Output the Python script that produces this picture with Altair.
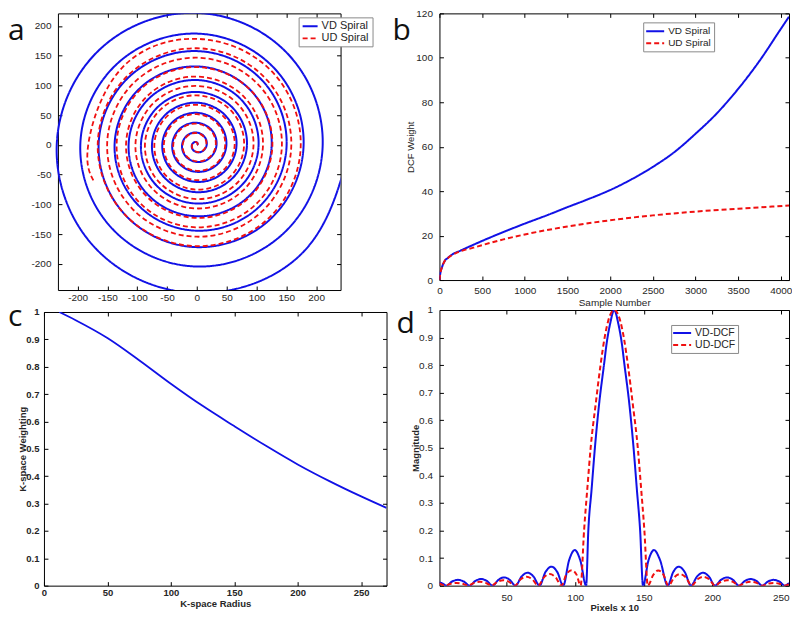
import numpy as np
import pandas as pd
import altair as alt

FONT = "Liberation Sans"
INK = "#262626"
BLUE = "#1111e6"
RED = "#f01010"
SOLID = [1, 0]
DASH = [5, 3]

# ---------------- panel a: spiral trajectories, radius every 45 degrees (counter-clockwise)
SPIRAL_STEP_DEG = 45
VD_RADIUS = [
    0, 2.1, 4.1, 6.2, 8.3, 10.3, 12.4, 14.4,
    16.5, 18.6, 20.6, 22.7, 24.8, 26.8, 28.9, 30.9,
    33, 35.1, 37.1, 39.2, 41.3, 43.3, 45.4, 47.4,
    49.5, 51.6, 53.8, 55.9, 58.0, 60.1, 62.3, 64.4,
    66.5, 68.7, 70.9, 73.1, 75.3, 77.4, 79.6, 81.8,
    84, 86.4, 88.9, 91.3, 93.8, 96.2, 98.6, 101.1,
    103.5, 106.3, 109.0, 111.8, 114.5, 117.3, 120.0, 122.8,
    125.5, 128.6, 131.8, 134.9, 138.0, 141.1, 144.3, 147.4,
    150.5, 154.1, 157.6, 161.2, 164.8, 168.3, 171.9, 175.4,
    179, 182.9, 187, 191, 195.5, 200, 204.5, 208,
    211, 216, 221.8, 228.5, 235, 243, 249, 253.5,
    258]
UD_RADIUS = [
    0, 2.0, 4.0, 5.9, 7.9, 9.9, 11.9, 13.9,
    15.8, 17.8, 19.8, 21.8, 23.8, 25.7, 27.7, 29.7,
    31.7, 33.7, 35.6, 37.6, 39.6, 41.6, 43.6, 45.5,
    47.5, 49.5, 51.5, 53.5, 55.4, 57.4, 59.4, 61.4,
    63.4, 65.3, 67.3, 69.3, 71.3, 73.3, 75.2, 77.2,
    79.2, 81.2, 83.2, 85.1, 87.1, 89.1, 91.1, 93.1,
    95.0, 97.0, 99.0, 101.0, 103.0, 104.9, 106.9, 108.9,
    110.9, 112.9, 114.8, 116.8, 118.8, 120.8, 122.8, 124.7,
    126.7, 128.7, 130.7, 132.7, 134.6, 136.6, 138.6, 140.6,
    142.6, 144.5, 146.5, 148.5, 150.5, 152.5, 154.4, 156.4,
    158.4, 160.4, 162.4, 164.3, 166.3, 168.3, 170.3, 172.3,
    174.2, 176.2, 178.2, 180.2, 182.2,
    183.1]
VD_ANGLE = [SPIRAL_STEP_DEG * k for k in range(len(VD_RADIUS))]
UD_ANGLE = [SPIRAL_STEP_DEG * k for k in range(len(UD_RADIUS) - 1)] + [4160]
SPIRAL_NAMES = ["VD Spiral", "UD Spiral"]
A_TICKS = [-200, -150, -100, -50, 0, 50, 100, 150, 200]

# ---------------- panel b: DCF weight vs sample number
B_VD_X = [0, 10, 30, 60, 100, 150, 250, 400, 500, 750, 1000, 1250, 1500, 1750, 2000,
          2250, 2500, 2750, 3000, 3250, 3500, 3750, 4000, 4096]
B_VD_Y = [0, 3, 5.8, 8.5, 10, 11.5, 13.3, 15.9, 17.6, 21.6, 25.4, 29, 32.8, 36.5, 40.5,
          45.3, 50.9, 57.5, 65.8, 75, 86, 98.6, 113, 118.5]
B_UD_X = [0, 10, 30, 60, 100, 150, 250, 400, 500, 750, 1000, 1500, 2000, 2500, 3000, 3500, 4096]
B_UD_Y = [0, 3, 5.8, 8.5, 9.9, 11.3, 13.0, 14.6, 15.7, 18.3, 20.5, 24.1, 26.9, 29.1, 30.8, 32.1, 33.5]
B_XTICKS = [0, 500, 1000, 1500, 2000, 2500, 3000, 3500, 4000]
B_YTICKS = [0, 20, 40, 60, 80, 100, 120]

# ---------------- panel c: k-space weighting
C_X = [12, 25, 50, 75, 100, 125, 150, 175, 200, 225, 250, 270]
C_Y = [1.0, 0.97, 0.905, 0.824, 0.738, 0.657, 0.583, 0.511, 0.443, 0.382, 0.326, 0.284]
C_XTICKS = [0, 50, 100, 150, 200, 250]
UNIT_TICKS = [0, 0.1, 0.2, 0.3, 0.4, 0.5, 0.6, 0.7, 0.8, 0.9, 1.0]

# ---------------- panel d: point spread functions
D_VD_X = [1, 3.5, 6, 10.25, 14.5, 18.75, 23, 27.2, 31.4, 35.6, 39.8, 44, 48.2, 52.3, 56.5,
          60.9, 65.3, 69.6, 74, 78.3, 82.7, 87, 91.3, 95.5, 99.7, 103.8, 108,
          109.6, 112, 114.4, 117.5, 121, 123, 125.5, 128.5, 131.5, 134, 136, 139.5,
          142.6, 145, 147.4, 149.5,
          153.5, 157.5, 162, 167.5, 171.5, 175.5, 180, 184.5, 188.9, 193.25, 197.6, 202,
          206.4, 210.75, 215.1, 219.5, 223.75, 228, 232.25, 236.5, 240.6, 244.75, 248.9, 253, 256]
D_VD_Y = [0.012, 0.007, 0, 0.015, 0.021, 0.015, 0, 0.017, 0.024, 0.017, 0, 0.021, 0.03, 0.021, 0,
          0.033, 0.047, 0.033, 0, 0.049, 0.069, 0.049, 0, 0.091, 0.129, 0.091, 0,
          0.2, 0.35, 0.5, 0.66, 0.8, 0.88, 0.95, 1.0, 0.95, 0.88, 0.8, 0.66,
          0.5, 0.35, 0.2, 0,
          0.092, 0.129, 0.092, 0, 0.049, 0.069, 0.049, 0, 0.033, 0.047, 0.033, 0,
          0.021, 0.03, 0.021, 0, 0.017, 0.024, 0.017, 0, 0.015, 0.021, 0.015, 0, 0.01]
D_UD_X = [1, 5, 9.25, 13.5, 17.75, 22, 26.25, 30.5, 34.75, 39, 43.25, 47.5, 51.75, 56,
          60.25, 64.5, 68.75, 73, 77.25, 81.5, 85.75, 90, 93.5, 97.5, 101, 104,
          106.5, 109, 111.3, 115, 118.5, 121.5, 125, 128.5, 132, 135.5, 138.5, 142,
          145.7, 148, 150.5, 153,
          157, 160.5, 164.5, 168, 172.25, 176.5, 180.75, 185,
          189.25, 193.5, 197.75, 202, 206.4, 210.75, 215.1, 219.5, 223.75, 228, 232.25, 236.5,
          240.6, 244.75, 248.9, 253, 256]
D_UD_Y = [0.008, 0, 0.007, 0.01, 0.007, 0, 0.01, 0.014, 0.01, 0, 0.014, 0.02, 0.014, 0,
          0.023, 0.032, 0.023, 0, 0.03, 0.042, 0.03, 0, 0.04, 0.056, 0.04, 0,
          0.2, 0.36, 0.5, 0.66, 0.8, 0.9, 0.975, 1.0, 0.975, 0.9, 0.8, 0.66,
          0.5, 0.36, 0.2, 0,
          0.039, 0.055, 0.039, 0, 0.03, 0.042, 0.03, 0,
          0.023, 0.032, 0.023, 0, 0.014, 0.02, 0.014, 0, 0.01, 0.014, 0.01, 0,
          0.007, 0.01, 0.007, 0, 0.006]
D_NAMES = ["VD-DCF", "UD-DCF"]
D_XTICKS = [50, 100, 150, 200, 250]


# ---------------- tables
def polar_table(radii, angles, name):
    th = np.deg2rad(np.asarray(angles, float))
    r = np.asarray(radii, float)
    return pd.DataFrame({"x": r * np.cos(th), "y": r * np.sin(th),
                         "series": name, "k": np.arange(len(r))})


def xy_table(xs, ys, name):
    return pd.DataFrame({"x": xs, "y": ys, "series": name, "k": np.arange(len(xs))})


df_a = pd.concat([polar_table(VD_RADIUS, VD_ANGLE, SPIRAL_NAMES[0]),
                  polar_table(UD_RADIUS, UD_ANGLE, SPIRAL_NAMES[1])], ignore_index=True)
df_b = pd.concat([xy_table(B_VD_X, B_VD_Y, SPIRAL_NAMES[0]),
                  xy_table(B_UD_X, B_UD_Y, SPIRAL_NAMES[1])], ignore_index=True)
df_c = xy_table(C_X, C_Y, "c")
df_d = pd.concat([xy_table(D_VD_X, D_VD_Y, D_NAMES[0]),
                  xy_table(D_UD_X, D_UD_Y, D_NAMES[1])], ignore_index=True)


# ---------------- helpers
def scale(domain, rng=None):
    kw = dict(domain=domain, nice=False, zero=False)
    if rng is not None:
        kw["range"] = rng
    return alt.Scale(**kw)


def lab_axis(orient, values, labpad, lsize, lweight="normal", fmt=None, expr=None,
             title=None, tsize=9.5, tweight="normal", tpos=0, offset=0):
    kw = dict(orient=orient, values=values, offset=offset, ticks=False, tickSize=0,
              domain=True, domainColor="black", domainWidth=1, grid=False,
              labelFont=FONT, labelFontSize=lsize, labelFontWeight=lweight,
              labelColor=INK, labelPadding=labpad, labelFlush=False, labelOverlap=False)
    if fmt is not None:
        kw["format"] = fmt
    if expr is not None:
        kw["labelExpr"] = expr
    if title:
        kw.update(title=title, titleFont=FONT, titleFontSize=tsize, titleFontWeight=tweight,
                  titleColor=INK, titleBaseline="middle")
        if orient == "bottom":
            kw["titleY"] = tpos
        else:
            kw["titleX"] = tpos
    else:
        kw["title"] = None
    return alt.Axis(**kw)


def tick_axis(orient, values, offset, domain):
    return alt.Axis(orient=orient, values=values, offset=offset, ticks=True, tickSize=4,
                    tickColor="black", tickWidth=1, labels=False, domain=domain,
                    domainColor="black", domainWidth=1, grid=False, title=None)


def boxed(main, df, xs, ys, W, H, x0, xv, yv, letter, lx, ly):
    ghost = alt.Chart(df).mark_point(opacity=0, size=1)
    inner1 = ghost.encode(
        x=alt.X("x:Q", scale=xs, axis=tick_axis("top", xv, -H, False)),
        y=alt.Y("y:Q", scale=ys, axis=tick_axis("right", yv, -(W - x0), False)))
    inner2 = ghost.encode(
        x=alt.X("x:Q", scale=xs, axis=tick_axis("bottom", xv, -H, True)),
        y=alt.Y("y:Q", scale=ys, axis=tick_axis("left", yv, -W, True)))
    tag = alt.Chart(pd.DataFrame({"t": [letter]})).mark_text(
        align="left", baseline="alphabetic", font="Open Sans", fontSize=30, color="#111111"
    ).encode(text="t:N", x=alt.value(lx), y=alt.value(ly))
    return alt.layer(main, inner1, inner2, tag).resolve_axis(
        x="independent", y="independent").properties(width=W, height=H)


def legend(x, y, fsize, pad, rowpad, laboff, path):
    return alt.Legend(orient="none", legendX=x, legendY=y, title=None, fillColor="white",
                      strokeColor="#8a8a8a", padding=pad, rowPadding=rowpad,
                      symbolType=path, symbolSize=100, symbolStrokeWidth=2,
                      labelFont=FONT, labelFontSize=fsize, labelColor=INK,
                      labelOffset=laboff, labelExpr="datum.label + '\u00a0\u00a0'")


def two_series(df, xs, ys, xaxis, yaxis, names, leg, interp, widths=(2, 2)):
    return alt.Chart(df).mark_line(clip=True, interpolate=interp).encode(
        x=alt.X("x:Q", scale=xs, axis=xaxis),
        y=alt.Y("y:Q", scale=ys, axis=yaxis),
        color=alt.Color("series:N", scale=alt.Scale(domain=names, range=[BLUE, RED]), legend=leg),
        strokeDash=alt.StrokeDash("series:N", scale=alt.Scale(domain=names, range=[SOLID, DASH]),
                                  legend=leg),
        strokeWidth=alt.StrokeWidth("series:N", scale=alt.Scale(domain=names, range=list(widths)),
                                    legend=None),
        order="k:Q")


# ---------------- panel a
WA, HA, XA0 = 297, 277, 14
xs_a = scale([-233, 241], [XA0, WA])
ys_a = scale([-244, 221])
leg_a = legend(255, 4, 11, 3, 1, 8, "M-1,0L2,0")
main_a = two_series(
    df_a, xs_a, ys_a,
    lab_axis("bottom", A_TICKS, 2, 10, expr="'' + datum.value"),
    lab_axis("left", A_TICKS, 7, 10, expr="'' + datum.value", offset=-XA0),
    SPIRAL_NAMES, leg_a, "natural", (2, 1.8))
pa = boxed(main_a, df_a, xs_a, ys_a, WA, HA, XA0, A_TICKS, A_TICKS, "a", -36, 27)

# ---------------- panel b
WB, HB = 350, 267
xs_b = scale([0, 4096])
ys_b = scale([0, 120])
leg_b = legend(204, 9, 10, 3, 1, 10, "M-1.2,0L2.4,0")
main_b = two_series(
    df_b, xs_b, ys_b,
    lab_axis("bottom", B_XTICKS, 5, 10, fmt="d", title="Sample Number", tsize=10, tpos=22),
    lab_axis("left", B_YTICKS, 7, 10, fmt="d", title="DCF Weight", tsize=9.5, tpos=-29),
    SPIRAL_NAMES, leg_b, "monotone")
pb = boxed(main_b, df_b, xs_b, ys_b, WB, HB, 0, B_XTICKS, B_YTICKS, "b", -47, 27)

# ---------------- panel c
WC, HC = 343, 274
xs_c = scale([0, 270])
ys_c = scale([0, 1])
main_c = alt.Chart(df_c).mark_line(clip=True, interpolate="monotone", color=BLUE, strokeWidth=1.8).encode(
    x=alt.X("x:Q", scale=xs_c,
            axis=lab_axis("bottom", C_XTICKS, 2, 9.5, "bold", fmt="d", title="K-space Radius",
                          tweight="bold", tpos=17.5)),
    y=alt.Y("y:Q", scale=ys_c,
            axis=lab_axis("left", UNIT_TICKS, 5, 9.5, "bold", fmt="~g", title="K-space Weighting",
                          tweight="bold", tpos=-21)),
    order="k:Q")
pc = boxed(main_c, df_c, xs_c, ys_c, WC, HC, 0, C_XTICKS, UNIT_TICKS, "c", -36, 14)

# ---------------- panel d
WD, HD = 350, 276
xs_d = scale([1, 256])
ys_d = scale([0, 1])
leg_d = legend(232, 15, 10.5, 2, 0, 10, "M-1.2,0L2.4,0")
main_d = two_series(
    df_d, xs_d, ys_d,
    lab_axis("bottom", D_XTICKS, 7, 10, fmt="d", title="Pixels x 10", tweight="bold", tpos=22),
    lab_axis("left", UNIT_TICKS, 7, 10, fmt="~g", title="Magnitude", tweight="bold", tpos=-24),
    D_NAMES, leg_d, "monotone")
pd_ = boxed(main_d, df_d, xs_d, ys_d, WD, HD, 0, D_XTICKS, UNIT_TICKS, "d", -43, 23)

# ---------------- layout
RES = dict(color="independent", strokeDash="independent")
left = alt.vconcat(pa, pc, spacing=22, bounds="flush").resolve_scale(
    strokeWidth="independent", **RES).resolve_legend(**RES)
right = alt.vconcat(pb, pd_, spacing=30, bounds="flush").resolve_scale(
    strokeWidth="independent", **RES).resolve_legend(**RES)
chart = alt.hconcat(left, right, spacing=5).resolve_scale(
    strokeWidth="independent", **RES).resolve_legend(**RES).properties(
    padding=0, background="white").configure_view(stroke=None)

chart.save("out.html", embed_options={"renderer": "svg", "actions": False})
